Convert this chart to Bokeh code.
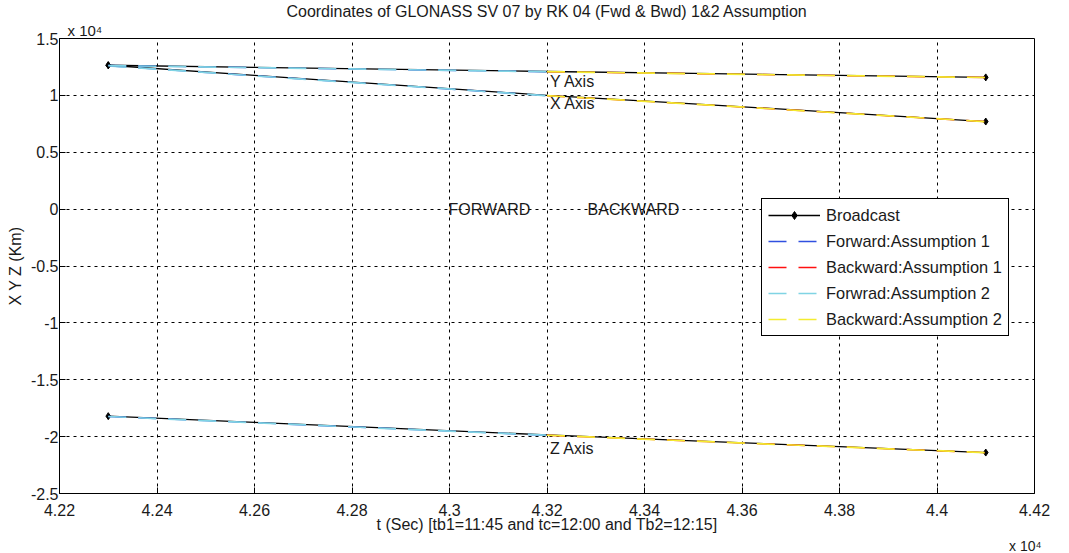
from bokeh.plotting import figure
from bokeh.models import (Range1d, Legend, LegendItem, Label, Title,
                          CustomJSTickFormatter, FixedTicker)
from bokeh.embed import file_html
from bokeh.resources import INLINE

# ---- data (time in seconds, coordinates in km) ----
t_all = [42300, 42600, 42900, 43200, 43500, 43800, 44100]
bc_x = [12650, 11760, 10880, 10000, 9260, 8490, 7700]
bc_y = [12650, 12470, 12290, 12100, 11930, 11760, 11580]
bc_z = [-18200, -18750, -19300, -19850, -20370, -20880, -21400]

t_fwd = [42300, 42600, 42900, 43200]
t_bwd = [43200, 43500, 43800, 44100]
fwd_x = [12600, 11720, 10850, 9970]
fwd_y = [12620, 12440, 12260, 12080]
fwd_z = [-18230, -18780, -19330, -19880]
bwd_x = [9970, 9230, 8460, 7690]
bwd_y = [12080, 11910, 11740, 11570]
bwd_z = [-19880, -20390, -20900, -21410]

t_mark = [42300, 44100]
mark_x = [12650, 7700]
mark_y = [12650, 11580]
mark_z = [-18200, -21400]

x_ticks = list(range(42200, 44201, 200))
y_ticks = list(range(-25000, 15001, 5000))

title = "Coordinates of GLONASS SV 07 by RK 04 (Fwd & Bwd) 1&2 Assumption"
xlabel = "t (Sec) [tb1=11:45 and tc=12:00 and Tb2=12:15]"
ylabel = "X Y Z (Km)"
exponent = "x 10\u2074"

FONT = "Liberation Sans"
TXT = "#1a1a1a"
BLUE = "#3050e0"
RED = "#ff1010"
CYAN = "#80d4e4"
YELLOW = "#f4ec30"
DASH = "18 12"

p = figure(width=1053, height=553, output_backend="svg", toolbar_location=None,
           x_range=Range1d(42200, 44200), y_range=Range1d(-25000, 15000),
           min_border_left=59, min_border_right=19, min_border_top=37,
           min_border_bottom=59)

# exponent above the frame (closest to the frame), main title above it
p.add_layout(Title(text=exponent, align="left", text_font=FONT,
                   text_font_size="15px", text_font_style="normal",
                   text_color=TXT, standoff=0, offset=8), "above")
p.title.text = title
p.title.align = "center"
p.title.text_font = FONT
p.title.text_font_size = "16px"
p.title.text_font_style = "normal"
p.title.text_color = TXT
p.title.standoff = 0

fmt = CustomJSTickFormatter(code="return parseFloat((tick/1e4).toFixed(4)).toString();")

xax = p.below[0]
yax = p.left[0]
for ax in (xax, yax):
    ax.formatter = fmt
    ax.major_label_text_font = FONT
    ax.major_label_text_font_size = "16px"
    ax.major_label_text_color = TXT
    ax.axis_label_text_font = FONT
    ax.axis_label_text_font_size = "16px"
    ax.axis_label_text_font_style = "normal"
    ax.axis_label_text_color = TXT
    ax.major_tick_in = 6
    ax.major_tick_out = 0
    ax.minor_tick_line_color = None
    ax.axis_line_color = "black"
    ax.major_tick_line_color = "black"
xax.ticker = FixedTicker(ticks=x_ticks)
yax.ticker = FixedTicker(ticks=y_ticks)
xax.axis_label = xlabel
yax.axis_label = ylabel
xax.major_label_standoff = 10
xax.axis_label_standoff = -3
yax.major_label_standoff = 1
yax.axis_label_standoff = 4

# exponent below the x axis, right aligned
p.add_layout(Title(text=exponent, align="right", text_font=FONT,
                   text_font_size="14px", text_font_style="normal",
                   text_color=TXT, standoff=0, offset=-7), "below")

p.outline_line_color = "black"
p.outline_line_alpha = 1
p.xgrid.ticker = FixedTicker(ticks=x_ticks)
p.ygrid.ticker = FixedTicker(ticks=y_ticks)
for g in (p.xgrid[0], p.ygrid[0]):
    g.grid_line_color = "black"
    g.grid_line_alpha = 1
    g.grid_line_dash = "3 4"
    g.grid_line_width = 1

items = {"bc": [], "f1": [], "b1": [], "f2": [], "b2": []}
for ys, fy, by, my in ((bc_x, fwd_x, bwd_x, mark_x),
                       (bc_y, fwd_y, bwd_y, mark_y),
                       (bc_z, fwd_z, bwd_z, mark_z)):
    items["bc"].append(p.line(t_all, ys, line_color="black", line_width=1.3))
    items["bc"].append(p.scatter(t_mark, my, marker="diamond", size=7,
                                 color="black"))
    items["f1"].append(p.line(t_fwd, fy, line_color=BLUE, line_width=1.4,
                              line_dash=DASH))
    items["b1"].append(p.line(t_bwd, by, line_color=RED, line_width=1.4,
                              line_dash=DASH))
    items["f2"].append(p.line(t_fwd, fy, line_color=CYAN, line_width=1.7,
                              line_dash=DASH))
    items["b2"].append(p.line(t_bwd, by, line_color=YELLOW, line_width=1.7,
                              line_dash=DASH))

legend = Legend(items=[
    LegendItem(label="Broadcast", renderers=items["bc"][:2]),
    LegendItem(label="Forward:Assumption 1", renderers=[items["f1"][0]]),
    LegendItem(label="Backward:Assumption 1", renderers=[items["b1"][0]]),
    LegendItem(label="Forwrad:Assumption 2", renderers=[items["f2"][0]]),
    LegendItem(label="Backward:Assumption 2", renderers=[items["b2"][0]]),
], location=(702, 157))
legend.label_text_font = FONT
legend.label_text_font_size = "16.4px"
legend.label_text_color = TXT
legend.glyph_width = 52
legend.glyph_height = 20
legend.label_height = 20
legend.label_standoff = 6
legend.spacing = 6
legend.padding = 6
legend.margin = 0
legend.border_line_color = "black"
legend.border_line_alpha = 1
legend.background_fill_alpha = 1
p.add_layout(legend, "center")

def lab(x, y, text, size="16px", **kw):
    p.add_layout(Label(x=x, y=y, text=text, text_font=FONT,
                       text_font_size=size, text_color=TXT, **kw))

lab(43200, 11230, "Y Axis", text_baseline="middle", x_offset=3)
lab(43200, 9300, "X Axis", text_baseline="middle", x_offset=3)
lab(43200, -21050, "Z Axis", text_baseline="middle", x_offset=3)
lab(42992, 0, "FORWARD", text_baseline="middle", x_offset=3)
lab(43277, 0, "BACKWARD", text_baseline="middle", x_offset=3)

open("out.html", "w").write(file_html(p, INLINE))
